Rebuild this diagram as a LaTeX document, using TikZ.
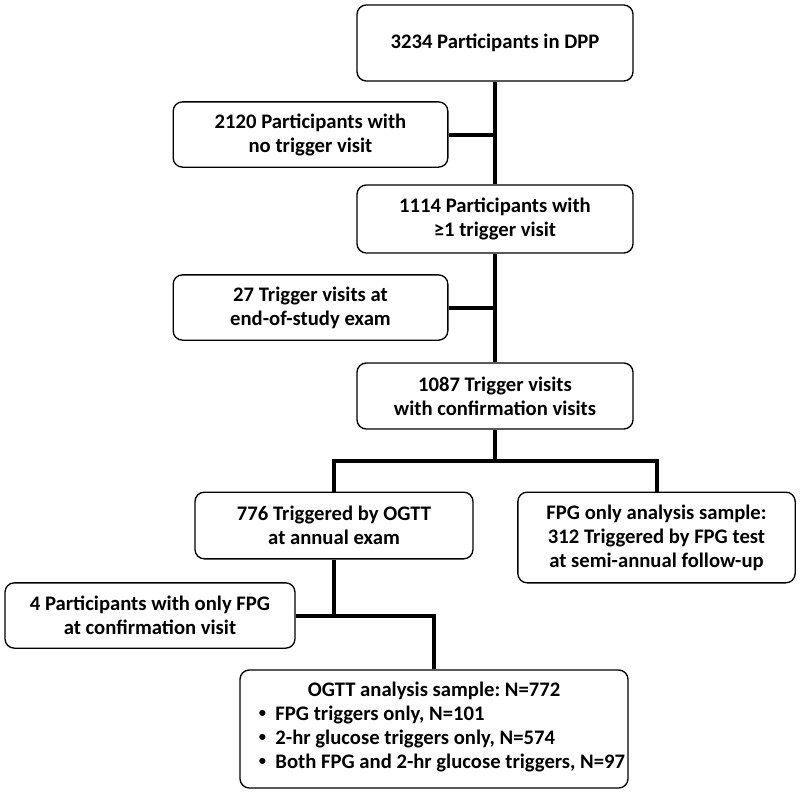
\documentclass[tikz,border=0pt]{standalone}
\usepackage{fontspec}
\setmainfont{Carlito}
\frenchspacing
\newcommand{\itemdot}{\raisebox{0.15em}{\scalebox{0.7}{\textbullet}}\hspace{7pt}}

\tikzset{
  flowbox/.style={draw, line width=1pt, rounded corners=7pt, align=center,
    inner sep=0.75pt, minimum width=207pt, minimum height=50pt,
    font=\fontsize{15.5}{18}\selectfont\bfseries},
  flowline/.style={line width=3pt, line join=miter}
}

\begin{document}
\begin{tikzpicture}[x=0.75pt,y=0.75pt,yscale=-1,xscale=1]
        %set diagram size: 800 x 796
        \useasboundingbox (0,0) rectangle (800,796);

        % Boxes
        \node [flowbox, minimum height=57pt] (dpp) at (495,43) {3234 Participants in DPP};
        \node [flowbox, minimum width=206pt, minimum height=49pt] (notrig) at (310.5,134.5) {2120 Participants with\\no trigger visit};
        \node [flowbox, minimum height=51pt] (trig) at (495,219) {1114 Participants with\\≥1 trigger visit};
        \node [flowbox, minimum width=206pt, minimum height=49pt] (endstudy) at (310.5,307.5) {27 Trigger visits at\\end-of-study exam};
        \node [flowbox, minimum height=49.5pt] (confirm) at (495,396) {1087 Trigger visits\\with confirmation visits};
        \node [flowbox, minimum width=208.5pt] (ogtt) at (334,525.5) {776 Triggered by OGTT\\at annual exam};
        \node [flowbox, minimum width=208pt, minimum height=68pt] (fpg) at (656.5,537.5) {FPG only analysis sample:\\312 Triggered by FPG test\\at semi-annual follow-up};
        \node [flowbox, minimum width=217.5pt, minimum height=49pt] (onlyfpg) at (150,615.5) {4 Participants with only FPG\\at confirmation visit};
        \node [flowbox, minimum width=291pt, minimum height=88.5pt] (sample) at (434,729) {OGTT analysis sample: N=772\\\hspace*{12pt}\begin{tabular}[t]{@{}l@{}}
            \itemdot FPG triggers only, N=101\\
            \itemdot 2-hr glucose triggers only, N=574\\
            \itemdot Both FPG and 2-hr glucose triggers, N=97
          \end{tabular}};

        % Split level below the confirmation box
        \coordinate (split) at (495,461);

        % Connectors
        \draw [flowline] (dpp.south) -- (trig.north);
        \draw [flowline] (notrig.east) -- (notrig.east -| dpp.south);
        \draw [flowline] (trig.south) -- (confirm.north);
        \draw [flowline] (endstudy.east) -- (endstudy.east -| trig.south);
        \draw [flowline] (confirm.south) -- (split);
        \draw [flowline] (ogtt.north) -- (ogtt.north |- split) -- (fpg.north |- split) -- (fpg.north);
        \draw [flowline] (ogtt.south) -- (ogtt.south |- onlyfpg.east);
        \draw [flowline] (onlyfpg.east) -- (onlyfpg.east -| sample.north) -- (sample.north);

\end{tikzpicture}
\end{document}
